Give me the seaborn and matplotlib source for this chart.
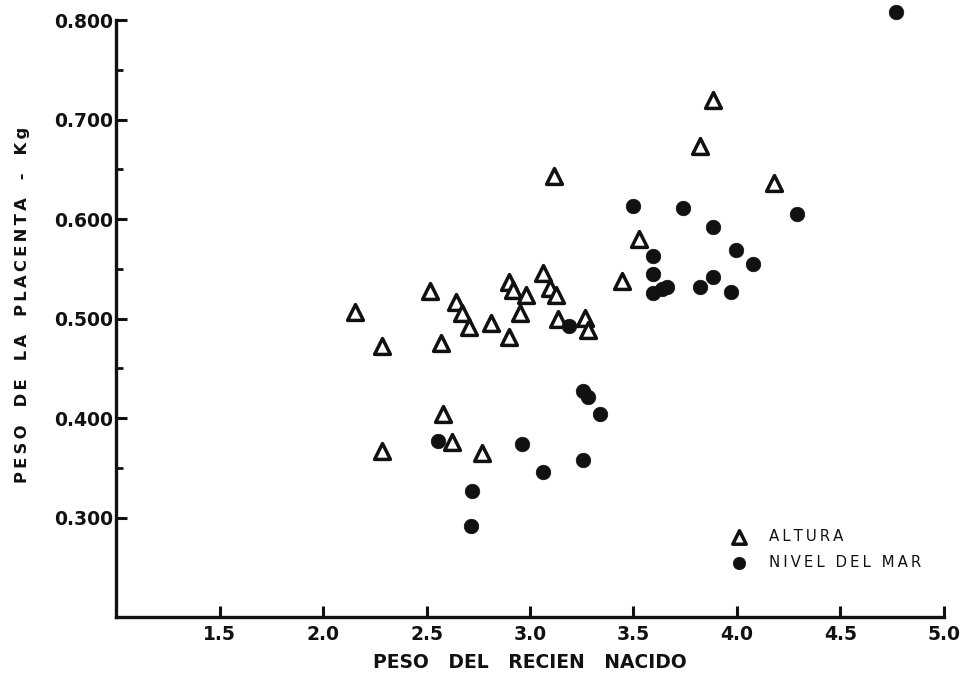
import matplotlib
matplotlib.use("Agg")
import matplotlib.pyplot as plt
import seaborn as sns
import pandas as pd
from matplotlib.ticker import FixedLocator

# ---- data ----
altura_x = [2.155, 2.285, 2.285, 2.517, 2.570, 2.580, 2.623, 2.643, 2.671, 2.705,
            2.812, 2.768, 2.899, 2.918, 2.981, 2.952, 2.899, 3.063, 3.097, 3.126,
            3.116, 3.135, 3.266, 3.280, 3.444, 3.527, 3.821, 3.884, 4.179]
altura_y = [0.507, 0.472, 0.367, 0.528, 0.475, 0.404, 0.376, 0.517, 0.506, 0.492,
            0.496, 0.365, 0.537, 0.529, 0.524, 0.506, 0.481, 0.546, 0.531, 0.524,
            0.643, 0.500, 0.501, 0.489, 0.538, 0.580, 0.673, 0.720, 0.636]

mar_x = [2.556, 2.720, 2.715, 2.961, 3.063, 3.188, 3.256, 3.280, 3.256, 3.338,
         3.498, 3.594, 3.594, 3.594, 3.638, 3.662, 3.739, 3.821, 3.884, 3.884,
         3.971, 3.995, 4.077, 4.290, 4.768]
mar_y = [0.377, 0.327, 0.291, 0.374, 0.346, 0.493, 0.427, 0.421, 0.358, 0.404,
         0.613, 0.563, 0.545, 0.526, 0.530, 0.532, 0.611, 0.532, 0.592, 0.542,
         0.527, 0.569, 0.555, 0.605, 0.808]

x_ticks = [1.5, 2.0, 2.5, 3.0, 3.5, 4.0, 4.5, 5.0]
x_ticklabels = ["1.5", "2.0", "2.5", "3.0", "3.5", "4.0", "4.5", "5.0"]
y_ticks = [0.3, 0.4, 0.5, 0.6, 0.7, 0.8]
y_ticklabels = ["0.300", "0.400", "0.500", "0.600", "0.700", "0.800"]

labels = ["ALTURA", "NIVEL DEL MAR"]
x_title = "PESO DEL RECIEN NACIDO"
y_title = "PESO DE LA PLACENTA - Kg"


def spaced(text, gap="\u2009"):
    return gap.join(text)


df_alt = pd.DataFrame({"x": altura_x, "y": altura_y})
df_mar = pd.DataFrame({"x": mar_x, "y": mar_y})

sns.set_theme(style="ticks")
plt.rcParams["font.family"] = ["DejaVu Sans"]

fig = plt.figure(figsize=(9.68, 6.79), dpi=100)
ax = fig.add_axes([0.120, 0.0913, 0.855, 0.879])

sns.scatterplot(data=df_alt, x="x", y="y", ax=ax, marker="^", s=130,
                facecolor="white", edgecolor="#111111", linewidth=2.5,
                label=spaced(labels[0]), zorder=3)
sns.scatterplot(data=df_mar, x="x", y="y", ax=ax, marker="o", s=110,
                color="#111111", edgecolor="#111111", linewidth=0.5,
                label=spaced(labels[1]), zorder=4)
for c in ax.collections:
    c.set_clip_on(False)

ax.set_xlim(1.0, 5.0)
ax.set_ylim(0.2, 0.8)

ax.xaxis.set_major_locator(FixedLocator(x_ticks))
ax.set_xticklabels(x_ticklabels)
ax.yaxis.set_major_locator(FixedLocator(y_ticks))
ax.set_yticklabels(y_ticklabels)
ax.yaxis.set_minor_locator(FixedLocator([0.35, 0.45, 0.55, 0.65, 0.75]))

for s in ["top", "right"]:
    ax.spines[s].set_visible(False)
for s in ["left", "bottom"]:
    ax.spines[s].set_linewidth(2.4)
    ax.spines[s].set_color("#111111")

ax.tick_params(axis="both", which="major", direction="in", length=8, width=2.2,
               color="#111111", labelsize=13.5, labelcolor="#111111")
ax.tick_params(axis="x", which="major", pad=6)
ax.tick_params(axis="y", which="major", pad=2)
ax.tick_params(axis="y", which="minor", direction="in", length=5, width=2.0,
               color="#111111")
for lab in ax.get_xticklabels() + ax.get_yticklabels():
    lab.set_fontweight("bold")

ax.set_xlabel(x_title.replace(" ", "   "), fontsize=13.5, fontweight="bold",
              color="#111111", labelpad=6)
ax.set_ylabel(spaced(y_title).replace(" ", "  "), fontsize=11.8,
              fontweight="bold", color="#111111")
ax.yaxis.set_label_coords(-0.104, 0.523)

leg = ax.legend(loc="upper left", bbox_to_anchor=(0.718, 0.17), frameon=False,
                fontsize=10.8, handletextpad=1.0, labelspacing=0.75,
                markerscale=0.85)
for t in leg.get_texts():
    t.set_color("#111111")

fig.savefig("out.png", dpi=100)
